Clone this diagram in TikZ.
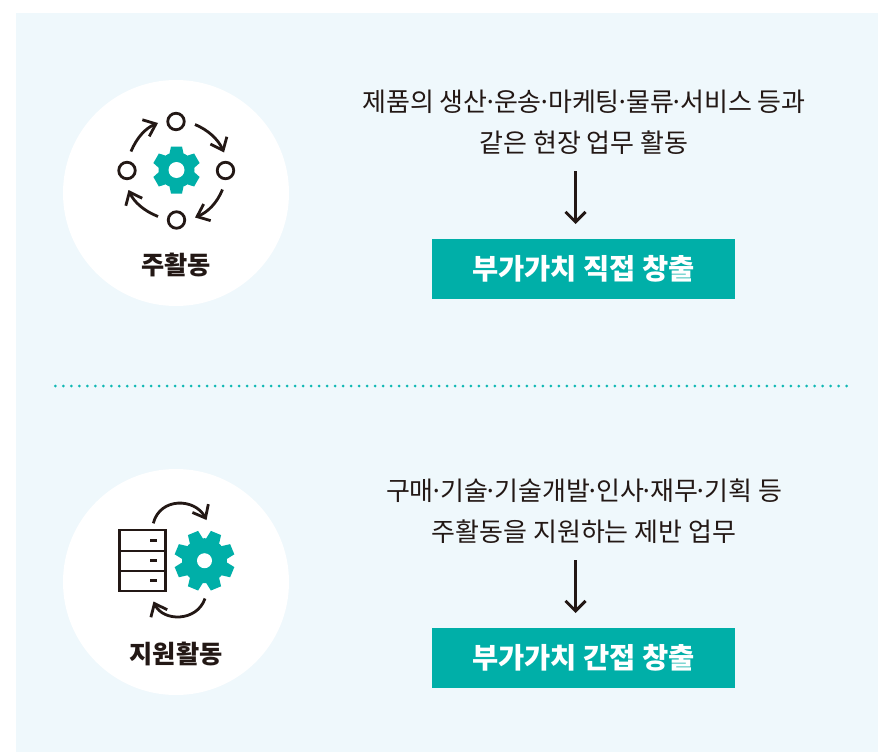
\documentclass[tikz,border=0pt]{standalone}
\usepackage{fontspec}
\setmainfont{Noto Sans CJK KR}
\usetikzlibrary{arrows.meta}
\definecolor{panelc}{HTML}{EFF8FC}
\definecolor{tealc}{HTML}{00AFA8}
\definecolor{darkc}{HTML}{231815}
\definecolor{dotc}{HTML}{10B8B4}
\newcommand{\md}{\kern-0.16em·\kern-0.16em}
\newcommand{\mygear}[8]{% x y outer root hole teeth offset halfwidth
  \fill[tealc] (#1,#2) circle[radius=#4];
  \foreach \i in {1,...,#6}{
    \pgfmathsetmacro{\ang}{#7+\i*360/#6}
    \fill[tealc,shift={(#1,#2)},rotate=\ang]
      (#4-1.5,-#8-1.5) -- (#3,-#8) -- (#3,#8) -- (#4-1.5,#8+1.5) -- cycle;
  }
  \fill[white] (#1,#2) circle[radius=#5];}
\tikzset{
  line/.style={draw=darkc,line width=2.8pt},
  arc arrow/.style={line,-{Straight Barb[length=11pt,width=18pt,line width=2.8pt]}},
  main arrow/.style={draw=darkc,line width=3pt,-{Straight Barb[length=10pt,width=20pt,line width=3pt]}},
  blob/.style={circle,fill=white,minimum size=226pt,inner sep=0pt},
  dot node/.style={circle,draw=darkc,line width=2.8pt,minimum size=16.5pt,inner sep=0pt},
  resultbox/.style={fill=tealc,minimum width=303pt,minimum height=60pt,inner sep=0pt,text=white,font=\bfseries\fontsize{28.5}{30}\selectfont},
  bodytext/.style={text=darkc,align=center,inner sep=0pt,font=\fontsize{26}{41}\selectfont},
  titletext/.style={text=darkc,inner sep=0pt,font=\bfseries\fontsize{25.2}{28}\selectfont}
}
\begin{document}
\begin{tikzpicture}[x=1pt,y=-1pt]
\useasboundingbox (0,0) rectangle (878,752);
\fill[white] (0,0) rectangle (878,752);
\fill[panelc] (16,13) rectangle (878,752);
\node[blob] (c1) at (176,193) {};
\node[blob] (c2) at (176,582) {};
\node[titletext] (l1) at (176,265) {주활동};
\node[titletext] (l2) at (176,654) {지원활동};
% divider
\coordinate (dl) at (55.3,386);
\coordinate (dr) at (847,386);
\draw[dotc,line width=3pt,line cap=round,dash pattern=on 0pt off 7.994pt] (dl) -- (dr);
% text
\node[bodytext] (t1) at (584,122) {제품의 생산\md 운송\md 마케팅\md 물류\md 서비스 등과\\같은 현장 업무 활동};
\node[bodytext] (t2) at (584,511) {구매\md 기술\md 기술개발\md 인사\md 재무\md 기획 등\\주활동을 지원하는 제반 업무};
\node[resultbox] (b1) at (583.5,269) {부가가치 직접 창출};
\node[resultbox] (b2) at (583.5,658) {부가가치 간접 창출};
\coordinate (a1s) at (575.5,171);
\coordinate (a1e) at (575.5,224);
\coordinate (a2s) at (575.5,560);
\coordinate (a2e) at (575.5,613);
\draw[main arrow] (a1s) -- (a1e);
\draw[main arrow] (a2s) -- (a2e);
% icon 1
\mygear{176.5}{170}{23.5}{18}{8}{6}{30}{5.5}
\node[dot node] (n1) at (176,121.5) {};
\node[dot node] (n2) at (225.5,170.5) {};
\node[dot node] (n3) at (176.5,220) {};
\node[dot node] (n4) at (127,170.5) {};
\draw[arc arrow] (131,151.5) .. controls (137,137) and (146,128) .. (158,123);
\draw[arc arrow] (195,124.5) .. controls (208,130) and (218,139) .. (224,152.5);
\draw[arc arrow] (222.5,189.5) .. controls (217,203) and (208,212) .. (195,217.5);
\draw[arc arrow] (158,216.5) .. controls (144,211) and (134,202) .. (128.5,190);
% icon 2
\draw[line] (119.5,530) rectangle (165.5,591);
\draw[line] (119.5,551) -- (165.5,551);
\draw[line] (119.5,571) -- (165.5,571);
\draw[line] (150,540.8) -- (157,540.8);
\draw[line] (150,560.8) -- (157,560.8);
\draw[line] (150,580.8) -- (157,580.8);
\mygear{204.5}{560.7}{30}{22.5}{7.5}{8}{22.5}{5.5}
\draw[arc arrow] (153.3,523.3) .. controls (160,497) and (195,498) .. (206.5,520);
\draw[arc arrow] (205,598.5) .. controls (197,622) and (163,622) .. (153.5,601.5);
\end{tikzpicture}
\end{document}
